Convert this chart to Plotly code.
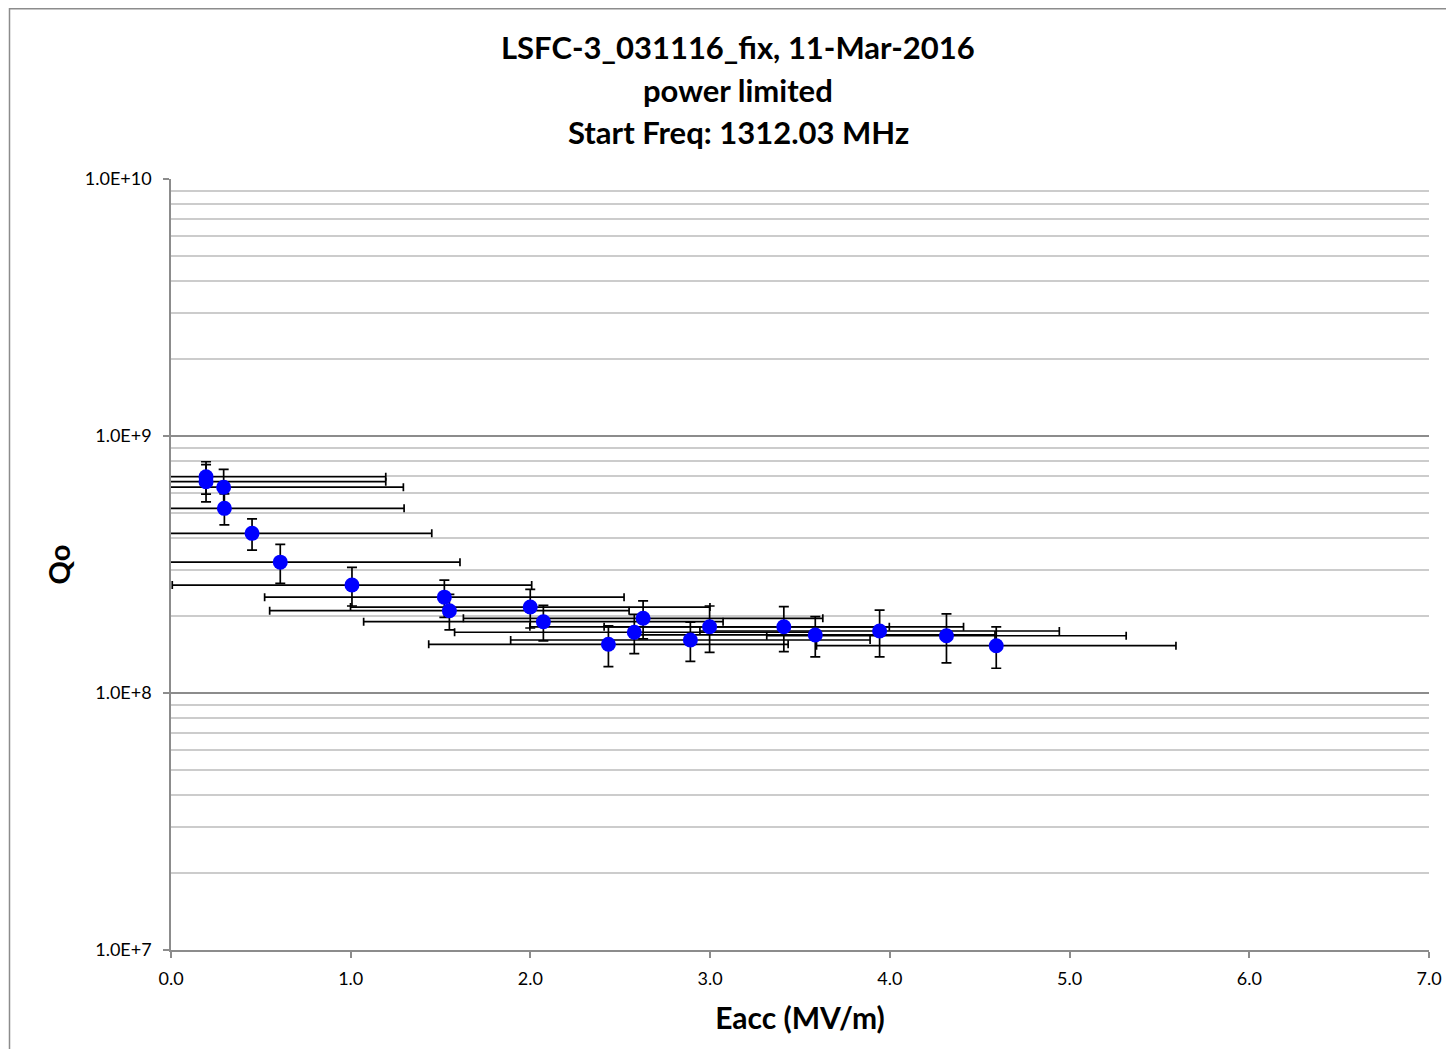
import plotly.graph_objects as go

# Data
eacc = [0.195, 0.195, 0.293, 0.297, 0.451, 0.608, 1.007, 1.521, 1.549, 1.999, 2.072,
        2.434, 2.578, 2.627, 2.890, 2.997, 3.410, 3.585, 3.943, 4.315, 4.592]
qo = [6.94e8, 6.64e8, 6.32e8, 5.23e8, 4.18e8, 3.23e8, 2.63e8, 2.36e8, 2.09e8, 2.16e8, 1.894e8,
      1.547e8, 1.723e8, 1.953e8, 1.608e8, 1.81e8, 1.81e8, 1.682e8, 1.743e8, 1.67e8, 1.528e8]
qo_err = [1.0e8, 1.1e8, 1.1e8, 0.72e8, 0.58e8, 0.56e8, 0.45e8, 0.39e8, 0.33e8, 0.37e8, 0.30e8,
          0.28e8, 0.30e8, 0.33e8, 0.28e8, 0.37e8, 0.36e8, 0.30e8, 0.36e8, 0.36e8, 0.28e8]
eacc_err = [1.0] * len(eacc)

y_tickvals = [1e7, 1e8, 1e9, 1e10]
y_ticktext = ["1.0E+7", "1.0E+8", "1.0E+9", "1.0E+10"]
x_tickvals = [0, 1, 2, 3, 4, 5, 6, 7]
x_ticktext = ["0.0", "1.0", "2.0", "3.0", "4.0", "5.0", "6.0", "7.0"]

title_lines = ["LSFC-3_031116_fix, 11-Mar-2016", "power limited", "Start Freq: 1312.03 MHz"]

FONT = "Lato, Carlito, Calibri, sans-serif"

fig = go.Figure()
fig.add_trace(go.Scatter(
    x=eacc, y=qo, mode="markers",
    marker=dict(color="#0000ff", size=15, line=dict(width=0)),
    error_x=dict(type="data", array=eacc_err, color="black", thickness=1.7, width=4),
    error_y=dict(type="data", array=qo_err, color="black", thickness=1.7, width=5),
    showlegend=False,
))

# page is offset by the 8px default body margin
OFF = 8
W, H = 1438, 1041
L, R, T, B = 171 - OFF, 1429 - OFF, 179 - OFF, 950 - OFF
pw, ph = R - L, B - T

def px(xp):
    return (xp - OFF - L) / pw

def py(yp):
    return (B - (yp - OFF)) / ph

annotations = []
for line, yp in zip(title_lines, [47, 90, 132]):
    annotations.append(dict(text="<b>" + line + "</b>", x=px(738), y=py(yp),
                            xref="paper", yref="paper", xanchor="center", yanchor="middle",
                            showarrow=False, font=dict(family=FONT, size=31, color="black")))

fig.update_layout(
    width=W, height=H,
    margin=dict(l=L, r=W - R, t=T, b=H - B, autoexpand=False),
    paper_bgcolor="white", plot_bgcolor="white",
    font=dict(family=FONT, color="black", size=18),
    annotations=annotations,
    shapes=[dict(type="rect", xref="paper", yref="paper",
                 x0=px(9.5), x1=px(1480), y0=py(1080), y1=py(OFF + 0.8),
                 line=dict(color="#8c8c8c", width=1.5), layer="below")],
    xaxis=dict(
        range=[0, 7], tickvals=x_tickvals, ticktext=x_ticktext,
        showgrid=False, zeroline=False, automargin=False,
        showline=True, linecolor="#8c8c8c", linewidth=1.5,
        ticks="outside", ticklen=6, tickcolor="#8c8c8c", tickwidth=1.5,
        ticklabelstandoff=6,
        tickfont=dict(size=18, family=FONT),
        title=dict(text="<b>Eacc (MV/m)</b>", font=dict(size=30, family=FONT), standoff=20),
    ),
    yaxis=dict(
        type="log", range=[7, 10], tickvals=y_tickvals, ticktext=y_ticktext,
        showgrid=True, gridcolor="#8c8c8c", gridwidth=1.5, zeroline=False, automargin=False,
        showline=True, linecolor="#8c8c8c", linewidth=1.5,
        ticks="outside", ticklen=6, tickcolor="#8c8c8c", tickwidth=1.5,
        ticklabelstandoff=8,
        tickfont=dict(size=18, family=FONT),
        minor=dict(dtick="D1", showgrid=True, gridcolor="#cccccc", gridwidth=1.5, ticks=""),
        title=dict(text="<b>Qo</b>", font=dict(size=29, family=FONT), standoff=6),
    ),
)

fig.write_html("out.html")
